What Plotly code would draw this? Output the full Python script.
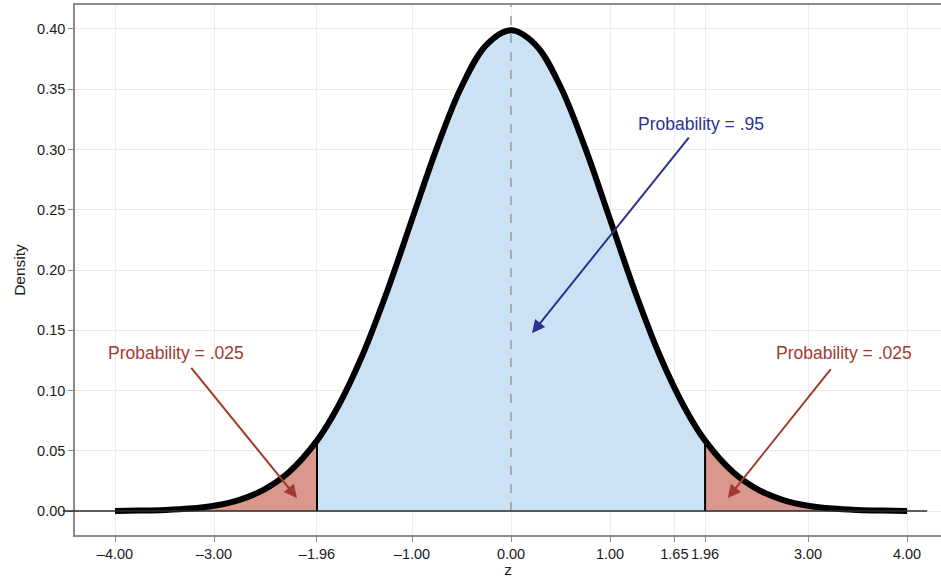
import plotly.graph_objects as go

# Standard normal density sampled along z (tails to +/-4, cut points at +/-1.96)
z_vals = [-4.0, -3.75, -3.5, -3.25, -3.0, -2.75, -2.5, -2.25, -1.96, -1.75, -1.5, -1.25,
          -1.0, -0.75, -0.5, -0.25, 0.0, 0.25, 0.5, 0.75, 1.0, 1.25, 1.5, 1.75, 1.96,
          2.25, 2.5, 2.75, 3.0, 3.25, 3.5, 3.75, 4.0]
density = [0.0001, 0.0004, 0.0009, 0.0020, 0.0044, 0.0091, 0.0175, 0.0317, 0.0584, 0.0863,
           0.1295, 0.1826, 0.2420, 0.3011, 0.3521, 0.3867, 0.3989, 0.3867, 0.3521, 0.3011,
           0.2420, 0.1826, 0.1295, 0.0863, 0.0584, 0.0317, 0.0175, 0.0091, 0.0044, 0.0020,
           0.0009, 0.0004, 0.0001]

crit_low, crit_high = -1.96, 1.96
x_ticks = [-4.0, -3.0, -1.96, -1.0, 0.0, 1.0, 1.65, 1.96, 3.0, 4.0]
x_tick_text = ["\u20134.00", "\u20133.00", "\u20131.96", "\u20131.00", "0.00", "1.00",
               "1.65", "1.96", "3.00", "4.00"]
y_ticks = [0.0, 0.05, 0.10, 0.15, 0.20, 0.25, 0.30, 0.35, 0.40]
y_tick_text = ["0.00", "0.05", "0.10", "0.15", "0.20", "0.25", "0.30", "0.35", "0.40"]

label_mid = "Probability = .95"
label_tail = "Probability = .025"

FONT = "Liberation Sans, Arial, Helvetica, sans-serif"
BLUE_FILL = "#cbe2f5"
RED_FILL = "#d9978e"
BLUE_TXT = "#2e3192"
RED_TXT = "#a23a2f"


def segment(lo, hi):
    xs, ys = [], []
    for zv, dv in zip(z_vals, density):
        if lo - 1e-9 <= zv <= hi + 1e-9:
            xs.append(zv)
            ys.append(dv)
    return xs, ys


fig = go.Figure()

# shaded areas under the curve
lx, ly = segment(-4.0, crit_low)
mx, my = segment(crit_low, crit_high)
rx, ry = segment(crit_high, 4.0)
for xs, ys, col in [(lx, ly, RED_FILL), (mx, my, BLUE_FILL), (rx, ry, RED_FILL)]:
    fig.add_trace(go.Scatter(x=xs, y=ys, mode="lines", fill="tozeroy", fillcolor=col,
                             line=dict(width=0, color=col, shape="spline"),
                             hoverinfo="skip", showlegend=False))

# critical value boundaries
for cv in (crit_low, crit_high):
    dv = density[z_vals.index(cv)]
    fig.add_trace(go.Scatter(x=[cv, cv], y=[0, dv], mode="lines",
                             line=dict(color="black", width=2),
                             hoverinfo="skip", showlegend=False))

# density curve
fig.add_trace(go.Scatter(x=z_vals, y=density, mode="lines",
                         line=dict(color="black", width=6, shape="spline"),
                         hoverinfo="skip", showlegend=False))

shapes = [
    # mean reference line
    dict(type="line", xref="x", yref="y", x0=0, x1=0, y0=0, y1=0.42,
         line=dict(color="#9a9a9a", width=1.5, dash="dash"), layer="above"),
    # baseline
    dict(type="line", xref="paper", yref="y", x0=-0.014, x1=0.984, y0=0, y1=0,
         line=dict(color="#2a2a2a", width=1.6), layer="above"),
]

annotations = [
    dict(x=0.212, y=0.1476, ax=1.808, ay=0.311, xref="x", yref="y", axref="x", ayref="y",
         text="", showarrow=True, arrowhead=2, arrowsize=1.3, arrowwidth=2, arrowcolor=BLUE_TXT),
    dict(x=1.92, y=0.321, xref="x", yref="y", text=label_mid, showarrow=False,
         font=dict(family=FONT, size=17.5, color=BLUE_TXT)),
    dict(x=-2.162, y=0.0108, ax=-3.242, ay=0.120, xref="x", yref="y", axref="x", ayref="y",
         text="", showarrow=True, arrowhead=2, arrowsize=1.3, arrowwidth=2, arrowcolor=RED_TXT),
    dict(x=-3.384, y=0.131, xref="x", yref="y", text=label_tail, showarrow=False,
         font=dict(family=FONT, size=17.5, color=RED_TXT)),
    dict(x=2.19, y=0.0108, ax=3.242, ay=0.119, xref="x", yref="y", axref="x", ayref="y",
         text="", showarrow=True, arrowhead=2, arrowsize=1.3, arrowwidth=2, arrowcolor=RED_TXT),
    dict(x=3.364, y=0.131, xref="x", yref="y", text=label_tail, showarrow=False,
         font=dict(family=FONT, size=17.5, color=RED_TXT)),
]

fig.update_layout(
    width=941, height=578,
    margin=dict(l=75, r=0, t=5, b=43),
    plot_bgcolor="white", paper_bgcolor="white",
    font=dict(family=FONT, size=14.5, color="#1a1a1a"),
    shapes=shapes, annotations=annotations,
    xaxis=dict(range=[-4.404, 4.343], tickmode="array", tickvals=x_ticks, ticktext=x_tick_text,
               tickangle=0, automargin=False,
               showgrid=True, gridcolor="#ebebeb", gridwidth=1, zeroline=False,
               showline=True, linecolor="#8a8a8a", linewidth=1.6, mirror=True,
               ticks="outside", ticklen=5, tickcolor="#8a8a8a", tickwidth=1.2,
               tickfont=dict(size=14.5, color="#1a1a1a"),
               title=dict(text="z", font=dict(size=15.5, color="#1a1a1a"), standoff=4)),
    yaxis=dict(range=[-0.0199, 0.4199], tickmode="array", tickvals=y_ticks, ticktext=y_tick_text,
               automargin=False,
               showgrid=True, gridcolor="#ebebeb", gridwidth=1, zeroline=False,
               showline=True, linecolor="#8a8a8a", linewidth=1.6,
               ticks="outside", ticklen=5, tickcolor="#8a8a8a", tickwidth=1.2,
               tickfont=dict(size=14.5, color="#1a1a1a"),
               title=dict(text="Density", font=dict(size=15.5, color="#1a1a1a"), standoff=8)),
)

fig.write_html("out.html")
